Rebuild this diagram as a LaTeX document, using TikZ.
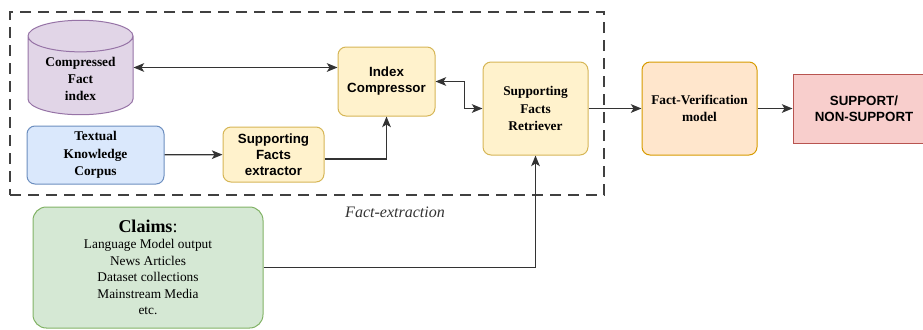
\documentclass[tikz,border=0pt]{standalone}
\usepackage{fontspec}
\setmainfont{Liberation Serif}
\setsansfont{Liberation Sans}
\usepackage{tikz}
\usepackage{xcolor}
\usetikzlibrary{shapes.geometric,arrows.meta}
\tikzset{>={Stealth[length=8pt,width=6.5pt,inset=2pt]}}

\definecolor{purplefill}{HTML}{E1D5E7}
\definecolor{purpleline}{HTML}{9673A6}
\definecolor{bluefill}{HTML}{DAE8FC}
\definecolor{blueline}{HTML}{6C8EBF}
\definecolor{yellowfill}{HTML}{FFF2CC}
\definecolor{yellowline}{HTML}{D6B656}
\definecolor{orangefill}{HTML}{FFE6CC}
\definecolor{orangeline}{HTML}{D79B00}
\definecolor{redfill}{HTML}{F8CECC}
\definecolor{redline}{HTML}{B85450}
\definecolor{greenfill}{HTML}{D5E8D4}
\definecolor{greenline}{HTML}{82B366}

\begin{document}
\begin{tikzpicture}[x=0.75pt, y=-0.75pt,
    box/.style={draw, rounded corners=6pt, align=center, line width=0.75pt,
      font=\bfseries\fontsize{10}{13}\selectfont},
    sansbox/.style={box, font=\sffamily\bfseries\fontsize{10}{12}\selectfont},
    yellowbox/.style={draw=yellowline, fill=yellowfill},
    flow/.style={draw=black!80, line width=0.9pt}]
      \useasboundingbox (0,0) rectangle (923,329);
      % dashed group
      \node[draw=black!75, dash pattern=on 8pt off 5.5pt, line width=0.8pt, minimum width=445.5pt, minimum height=137.25pt] (group) at (307,103.5) {};
      \node[font=\itshape\fontsize{12}{14}\selectfont, text=black!80] (grouplabel) at (395,212) {Fact-extraction};
      \node[cylinder, shape border rotate=90, aspect=0.4, draw=purpleline, fill=purplefill, line width=0.75pt, align=center,
        minimum width=78.75pt, minimum height=63.75pt, anchor=shape center, font=\bfseries\fontsize{10}{13}\selectfont] (index) at (80.5,67.5) {Compressed\\Fact\\index};
      \node[box, draw=blueline, fill=bluefill, minimum width=102.75pt, minimum height=43.5pt] (corpus) at (95.5,155) {Textual\\Knowledge\\Corpus};
      \node[sansbox, yellowbox, minimum width=75.75pt, minimum height=41.25pt] (extractor) at (273.5,154.5) {Supporting\\Facts\\extractor};
      \node[sansbox, yellowbox, minimum width=72.75pt, minimum height=51.75pt] (compressor) at (386.5,81.5) {Index\\Compressor};
      \node[box, yellowbox, minimum width=78.75pt, minimum height=69.75pt] (retriever) at (535.5,108.5) {Supporting\\Facts\\Retriever};
      \node[box, draw=orangeline, fill=orangefill, minimum width=86.25pt, minimum height=69.75pt] (verifier) at (699.5,108.5) {Fact-Verification\\model};
      \node[sansbox, rounded corners=0pt, draw=redline, fill=redfill, minimum width=106.5pt, minimum height=51.75pt, text width=95pt] (verdict) at (864,108.5) {SUPPORT/\\NON-SUPPORT};
      \node[box, draw=greenline, fill=greenfill, rounded corners=10pt, font=\fontsize{10}{12.4}\selectfont,
        minimum width=172.5pt, minimum height=90.75pt] (claims) at (148,267.5)
        {{\fontsize{13.5}{15}\selectfont\textbf{Claims}:}\\Language Model output\\News Articles\\Dataset collections\\Mainstream Media\\etc.};
      % connectors
      \draw[flow, <->] (index.east |- index.shape center) -- (index.shape center -| compressor.west);
      \draw[flow, ->] (corpus) -- (extractor);
      \draw[flow, ->] ([yshift=-3.4pt]extractor.east) -| (compressor.south);
      \draw[flow, <->] (compressor.east) -- ++(29,0) |- (retriever.west);
      \draw[flow, ->] (retriever) -- (verifier);
      \draw[flow, ->] (verifier) -- (verdict);
      \draw[flow, ->] (claims.east) -| (retriever.south);
\end{tikzpicture}
\end{document}
